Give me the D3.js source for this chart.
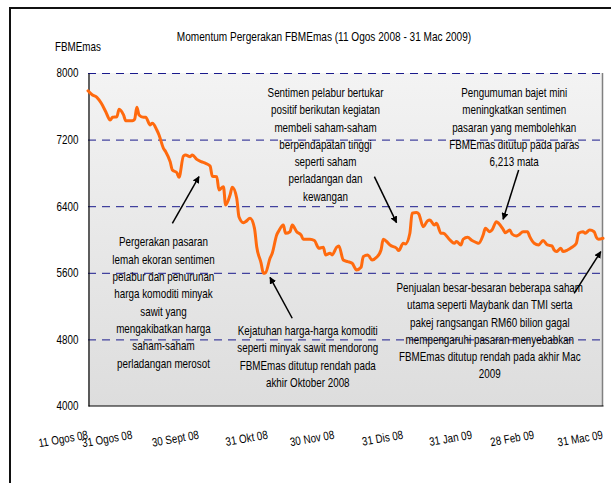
<!DOCTYPE html>
<html>
<head>
<meta charset="utf-8">
<script src="https://cdn.jsdelivr.net/npm/d3@7/dist/d3.min.js"></script>
<style>
  html, body { margin: 0; padding: 0; background: #fff; }
  svg { display: block; }
  text { font-family: 'Liberation Sans', Arial, sans-serif; fill: #000; }
</style>
</head>
<body>
<svg id="chart" width="611" height="483"></svg>
<script>
// ---------------- DATA ----------------
const title = "Momentum Pergerakan FBMEmas (11 Ogos 2008 - 31 Mac 2009)";
const yAxisTitle = "FBMEmas";
const yTicks = [4000, 4800, 5600, 6400, 7200, 8000];
const xTickDates = ["2008-08-11","2008-08-31","2008-09-30","2008-10-31","2008-11-30","2008-12-31","2009-01-31","2009-02-28","2009-03-31"];
const xTickLabels = ["11 Ogos 08","31 Ogos 08","30 Sept 08","31 Okt 08","30 Nov 08","31 Dis 08","31 Jan 09","28 Feb 09","31 Mac 09"];

const dates = [
"2008-08-11","2008-08-13","2008-08-15","2008-08-17","2008-08-19","2008-08-21","2008-08-22","2008-08-24","2008-08-25","2008-08-27",
"2008-08-28","2008-08-31","2008-09-01","2008-09-02","2008-09-03","2008-09-05","2008-09-06","2008-09-08","2008-09-09","2008-09-11",
"2008-09-12","2008-09-14","2008-09-15","2008-09-17","2008-09-18","2008-09-20","2008-09-21","2008-09-23","2008-09-24","2008-09-26",
"2008-09-27","2008-09-29","2008-10-01","2008-10-03","2008-10-05","2008-10-06","2008-10-08","2008-10-09","2008-10-11","2008-10-12",
"2008-10-14","2008-10-15","2008-10-17","2008-10-18","2008-10-20","2008-10-21","2008-10-23","2008-10-25","2008-10-26","2008-10-28",
"2008-10-29","2008-10-30","2008-11-01","2008-11-02","2008-11-04","2008-11-05","2008-11-07","2008-11-08","2008-11-10","2008-11-11",
"2008-11-13","2008-11-15","2008-11-16","2008-11-19","2008-11-21","2008-11-23","2008-11-25","2008-11-26","2008-11-28","2008-11-29",
"2008-12-01","2008-12-02","2008-12-04","2008-12-06","2008-12-08","2008-12-10","2008-12-12","2008-12-13","2008-12-15","2008-12-17",
"2008-12-19","2008-12-21","2008-12-22","2008-12-24","2008-12-25","2008-12-28","2008-12-29","2008-12-31","2009-01-01","2009-01-03",
"2009-01-04","2009-01-06","2009-01-07","2009-01-09","2009-01-11","2009-01-12","2009-01-14","2009-01-15","2009-01-17","2009-01-18",
"2009-01-21","2009-01-23","2009-01-24","2009-01-26","2009-01-27","2009-01-29","2009-01-31","2009-02-02","2009-02-03","2009-02-05",
"2009-02-06","2009-02-08","2009-02-09","2009-02-11","2009-02-12","2009-02-14","2009-02-15","2009-02-17","2009-02-18","2009-02-20",
"2009-02-21","2009-02-23","2009-02-25","2009-02-26","2009-02-28","2009-03-02","2009-03-04","2009-03-06","2009-03-08","2009-03-09",
"2009-03-10","2009-03-12","2009-03-13","2009-03-15","2009-03-17","2009-03-19","2009-03-20","2009-03-22","2009-03-23","2009-03-25",
"2009-03-27","2009-03-28","2009-03-29","2009-03-31"
];
const fbmEmas = [
7787,7736,7708,7636,7535,7435,7468,7475,7564,7496,
7427,7427,7444,7588,7496,7468,7468,7376,7396,7315,
7255,7095,7055,6935,6835,6803,6747,7003,7015,6995,
7015,6963,6935,6915,6883,6760,6755,6595,6635,6415,
6535,6627,6495,6274,6202,6214,6254,6134,5914,5714,
5594,5602,5774,5834,6054,6106,6174,6074,6094,6174,
6094,6054,6003,6003,5987,5895,5907,5815,5835,5815,
5907,5923,5754,5734,5714,5634,5666,5794,5815,5754,
5786,5874,6003,5963,5935,5895,5867,5955,5947,6075,
6315,6323,6307,6154,6226,6234,6174,6194,6075,6075,
5995,5955,5975,5935,6003,6027,5987,5963,5955,6054,
6134,6094,6114,6214,6194,6122,6082,6114,6066,6042,
6054,6094,6094,6034,5955,5935,5987,5935,5923,5874,
5855,5895,5855,5874,5907,5955,6075,6094,6075,6114,
6094,6027,6003,6015
];

// annotations: text lines, text anchor (date/value of first baseline), arrow from/to (date, value)
const annotations = [
  { lines: ["Pergerakan pasaran","lemah ekoran sentimen","pelabur dan penurunan","harga komoditi minyak","sawit yang","mengakibatkan harga","saham-saham","perladangan merosot"],
    textDate: "2008-09-14", textValue: 5916, arrowFrom: ["2008-09-18", 6195], arrowTo: ["2008-09-30", 6755] },
  { lines: ["Kejatuhan harga-harga komoditi","seperti minyak sawit mendorong","FBMEmas ditutup rendah pada","akhir Oktober 2008"],
    textDate: "2008-11-18", textValue: 4853, arrowFrom: ["2008-11-11", 5054], arrowTo: ["2008-11-01", 5546] },
  { lines: ["Sentimen pelabur bertukar","positif berikutan kegiatan","membeli saham-saham","berpendapatan tinggi","seperti saham","perladangan dan","kewangan"],
    textDate: "2008-11-26", textValue: 7712, arrowFrom: ["2008-12-18", 6755], arrowTo: ["2008-12-28", 6202] },
  { lines: ["Pengumuman bajet mini","meningkatkan sentimen","pasaran yang membolehkan","FBMEmas ditutup pada paras","6,213 mata"],
    textDate: "2009-02-19", textValue: 7712, arrowFrom: ["2009-02-21", 6835], arrowTo: ["2009-02-14", 6243] },
  { lines: ["Penjualan besar-besaran beberapa saham","utama seperti Maybank dan TMI serta","pakej rangsangan RM60 bilion gagal","mempengaruhi pasaran menyebabkan","FBMEmas ditutup rendah pada akhir Mac","2009"],
    textDate: "2009-02-08", textValue: 5370, arrowFrom: ["2009-03-18", 5354], arrowTo: ["2009-03-30", 5854] }
];

// ---------------- CHART ----------------
const svg = d3.select("#chart");
const parse = d3.timeParse("%Y-%m-%d");
const margin = { left: 88, right: 8, top: 73, bottom: 77 };
const W = 611, H = 483;
const x = d3.scaleTime().domain([parse("2008-08-11"), parse("2009-03-31")]).range([margin.left, W - margin.right]);
const y = d3.scaleLinear().domain([4000, 8000]).range([H - margin.bottom, margin.top]);
const NARROW = 0.82; // emulate a condensed (Arial Narrow-like) face

// outer frame
svg.append("rect").attr("x", 10).attr("y", 8).attr("width", 700).attr("height", 600)
  .attr("fill", "none").attr("stroke", "#111").attr("stroke-width", 2);

// plot background gradient
const defs = svg.append("defs");
const grad = defs.append("linearGradient").attr("id", "bg").attr("x1", 0).attr("y1", 0).attr("x2", 0).attr("y2", 1);
grad.append("stop").attr("offset", "0%").attr("stop-color", "#f3f3f3");
grad.append("stop").attr("offset", "100%").attr("stop-color", "#dddddd");
defs.append("marker").attr("id", "arrow").attr("viewBox", "0 0 10 10").attr("refX", 9).attr("refY", 5)
  .attr("markerWidth", 7).attr("markerHeight", 7).attr("markerUnits", "userSpaceOnUse").attr("orient", "auto")
  .append("path").attr("d", "M0,0 L10,5 L0,10 z").attr("fill", "#000");

const x0 = x.range()[0], x1 = x.range()[1];
const yTop = y(8000), yBot = y(4000);
svg.append("rect").attr("x", x0).attr("y", yTop).attr("width", x1 - x0).attr("height", yBot - yTop)
  .attr("fill", "url(#bg)");

// gridlines
svg.append("g").selectAll("line").data(yTicks.filter(v => v > 4000)).join("line")
  .attr("x1", x0).attr("x2", x1).attr("y1", d => y(d) + 0.5).attr("y2", d => y(d) + 0.5)
  .attr("stroke", "#1a1a8c").attr("stroke-width", 1).attr("stroke-dasharray", "8,6");

// right plot border
svg.append("line").attr("x1", x1 - 0.5).attr("x2", x1 - 0.5).attr("y1", yTop).attr("y2", yBot)
  .attr("stroke", "#808080").attr("stroke-width", 1.5);

// y axis
const yAxis = d3.axisLeft(y).tickValues(yTicks).tickSize(0).tickPadding(10).tickFormat(d3.format("d"));
const gy = svg.append("g").attr("transform", `translate(${x0 + 0.5},0)`).call(yAxis);
gy.select(".domain").attr("stroke", "#000").attr("stroke-width", 1.2);
gy.selectAll("text").attr("font-size", 12).style("font-family", null).attr("class", "cond");

// x axis
const xAxis = d3.axisBottom(x).tickValues(xTickDates.map(parse)).tickSize(0).tickFormat((d, i) => xTickLabels[i]);
const gx = svg.append("g").attr("transform", `translate(0,${yBot - 0.5})`).call(xAxis);
gx.select(".domain").attr("stroke", "#000").attr("stroke-width", 1.2);
gx.selectAll(".tick text").attr("font-size", 12).style("font-family", null).attr("class", "cond")
  .attr("text-anchor", "end").attr("dy", null).attr("y", null)
  .attr("transform", "translate(0,33) rotate(-10)");

// line
const line = d3.line().x((d, i) => x(parse(dates[i]))).y(d => y(d)).curve(d3.curveMonotoneX);
svg.append("path").datum(fbmEmas).attr("d", line).attr("fill", "none")
  .attr("stroke", "#ff6a0e").attr("stroke-width", 3).attr("stroke-linejoin", "round").attr("stroke-linecap", "round");

// titles
svg.append("text").attr("class", "cond").attr("x", 324).attr("y", 41).attr("text-anchor", "middle").attr("font-size", 12.3).text(title);
svg.append("text").attr("class", "cond").attr("x", 55).attr("y", 51).attr("font-size", 12).text(yAxisTitle);

// annotations
const lh = 17.3;
annotations.forEach(a => {
  const tx = x(parse(a.textDate)), ty = y(a.textValue);
  a.lines.forEach((l, i) => {
    svg.append("text").attr("class", "cond").attr("text-anchor", "middle").attr("font-size", 12)
      .attr("x", tx).attr("y", ty + i * lh).text(l);
  });
  svg.append("line")
    .attr("x1", x(parse(a.arrowFrom[0]))).attr("y1", y(a.arrowFrom[1]))
    .attr("x2", x(parse(a.arrowTo[0]))).attr("y2", y(a.arrowTo[1]))
    .attr("stroke", "#000").attr("stroke-width", 1.5).attr("marker-end", "url(#arrow)");
});

// condense all text horizontally (scale transform) to mimic the narrow face of the original
svg.selectAll("text.cond").each(function () {
  const xa = +(this.getAttribute("x") || 0), ya = +(this.getAttribute("y") || 0);
  const prev = this.getAttribute("transform") || "";
  this.setAttribute("x", 0);
  this.setAttribute("y", 0);
  this.setAttribute("transform", `${prev} translate(${xa},${ya}) scale(${NARROW},1)`.trim());
});
</script>
</body>
</html>
